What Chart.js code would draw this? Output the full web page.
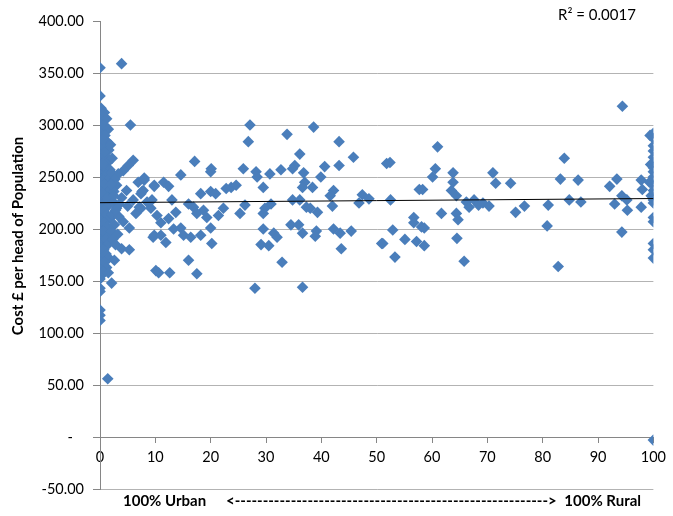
<!DOCTYPE html>
<html>
<head>
<meta charset="utf-8">
<script src="https://cdn.jsdelivr.net/npm/chart.js@4.4.0/dist/chart.umd.min.js"></script>
<style>
  html, body { margin: 0; padding: 0; background: #fff; }
  #wrap { width: 673px; height: 516px; }
</style>
</head>
<body>
<div id="wrap"><canvas id="costChart" width="673" height="516"></canvas></div>
<script>
// [percent rural, cost £ per head]
const fullyUrban = [
  [0,355],[0,328],[0.2,316],[0,312],[0.3,308],[0,305],[0.2,302],[0,298],[0.3,295],[0,292],
  [0.2,288],[0,285],[0.3,282],[0,278],[0.2,275],[0,272],[0.3,268],[0,265],[0.2,262],[0,258],
  [0.3,255],[0,252],[0.2,248],[0,245],[0.3,242],[0,238],[0.2,235],[0,232],[0.3,228],[0,225],
  [0.2,222],[0,218],[0.3,215],[0,212],[0.2,208],[0,205],[0.3,202],[0,198],[0.2,195],[0,192],
  [0.3,188],[0,185],[0.2,182],[0,178],[0.3,175],[0,172],[0.2,168],[0,165],[0.3,162],[0,158],
  [0.2,155],[0,152],[0,143],[0,140],[0,122],[0,117],[0,112]
];
const nearUrban = [
  [0.8,312],[1.2,306],[0.7,300],[1.5,296],[0.9,290],[1.3,284],[0.6,280],[1.6,276],[1.0,270],[1.4,264],
  [0.7,260],[1.8,257],[1.1,252],[0.6,247],[1.5,244],[0.9,240],[1.3,236],[0.6,232],[1.7,229],[1.0,226],
  [1.4,222],[0.7,218],[1.2,214],[1.8,210],[0.8,206],[1.3,202],[0.6,198],[1.6,194],[1.0,190],[1.4,185],
  [0.7,180],[1.1,176],[1.6,172],[0.8,168],[1.2,163],[0.6,159],[1.5,158],[2.1,148],[1.4,56],
  [0.5,286],[1.9,281],[0.9,274],[2.2,268],[0.5,263],[1.9,249],[0.8,243],[2.0,238],[0.5,234],[1.3,230],
  [3.9,359],[5.5,300],[6.0,266],[5.1,261],[4.2,256],[3.3,253],[2.1,254],[2.7,248],[8.0,249],[6.9,245],
  [9.8,242],[7.8,237],[4.8,237],[3.0,242],[2.5,236],[3.9,230],[7.4,234],[7.4,220],[4.2,207],[5.3,201],
  [9.6,192],[3.9,181],[5.3,180],[2.6,170],[10.1,160],[2.4,226],[3.0,220],[2.2,214],[3.4,212],[2.6,204],
  [2.0,198],[3.2,195],[2.3,190],[2.8,185],[6.5,215],[8.5,226],[6.0,228],[5.0,222],[2.0,243],[2.5,232],
  [3.5,224],[2.8,218]
];
const urbanMix = [
  [8.0,247],[11.5,245],[12.4,241],[9.8,241],[7.6,236],[9.4,228],[13.0,228],[16.0,224],[16.9,221],[7.1,221],
  [9.2,220],[13.7,216],[18.7,218],[17.5,215],[10.3,213],[19.3,211],[21.4,213],[11.0,206],[12.4,210],[13.3,200],
  [14.6,201],[20.0,201],[9.8,194],[11.0,194],[15.1,194],[16.4,192],[18.2,194],[11.9,187],[20.2,186],[16.0,170],
  [10.6,158],[12.6,158],[17.5,157],[17.1,265],[20.1,258],[20.0,255],[14.6,252],[18.2,234],[20.0,236],[20.9,234],
  [23.7,240],[24.6,242],[22.8,239],[22.3,220],[25.3,215],[26.2,223],[25.9,258],[27.1,300],[26.8,284],[28.2,255],
  [28.4,250],[29.5,240],[29.5,215],[29.5,200],[29.1,185],[28.0,143]
];
const midMix = [
  [38.6,298],[33.8,291],[43.2,284],[36.1,272],[45.8,269],[35.2,261],[34.8,258],[36.8,254],[43.2,261],[40.6,260],
  [32.7,257],[30.7,253],[51.8,263],[39.9,250],[37.0,245],[36.6,240],[38.4,240],[42.2,237],[41.6,232],[34.8,228],
  [36.1,228],[30.9,224],[29.8,220],[37.3,221],[38.0,220],[39.3,216],[42.0,222],[46.8,225],[47.4,233],[48.6,229],
  [31.4,196],[32.0,192],[34.5,204],[35.9,204],[36.6,196],[39.1,198],[38.9,193],[42.2,200],[43.4,196],[45.4,198],
  [30.5,184],[43.6,181],[50.9,186],[32.9,168],[36.6,144]
];
const ruralMix = [
  [61.0,279],[52.4,264],[60.6,258],[60.1,250],[63.8,254],[63.8,245],[71.0,254],[71.5,244],[57.7,238],[58.3,238],
  [63.5,237],[64.4,232],[52.5,228],[66.2,226],[67.6,228],[69.2,225],[70.3,222],[66.7,221],[68.4,223],[61.7,215],
  [64.4,215],[64.7,209],[56.7,211],[56.7,206],[58.1,202],[58.6,201],[52.9,199],[51.1,186],[55.1,190],[57.2,188],
  [58.6,184],[64.5,191],[53.3,173],[65.8,169],
  [94.4,318],[83.9,268],[83.2,248],[86.4,247],[74.2,244],[92.1,241],[93.4,248],[97.8,247],[98.0,238],[94.3,232],
  [95.2,228],[93.0,224],[95.3,218],[97.8,221],[84.8,228],[86.9,226],[76.7,222],[75.1,216],[81.0,223],[80.8,203],
  [94.3,197],[82.8,164]
];
const fullyRural = [
  [100,292],[100,287],[100,280],[100,275],[100,269],[100,264],[100,259],[100,255],[100,250],[100,246],
  [100,242],[100,237],[100,233],[100,228],[100,225],[100,211],[100,207],[100,186],[100,180],[100,172],
  [100,-3],[99.4,290],[99.5,262],[99.3,245],[99.6,232]
];

const xTicks = [0, 10, 20, 30, 40, 50, 60, 70, 80, 90, 100];
const yTicks = [-50, 0, 50, 100, 150, 200, 250, 300, 350, 400];
const yTitle = 'Cost £ per head of Population';
const xTitleLeft = '100% Urban';
const xTitleRight = '100% Rural';
const rSquaredText = 'R\u00B2 = 0.0017';

const allPoints = [].concat(fullyUrban, nearUrban, urbanMix, midMix, ruralMix, fullyRural)
  .map(p => ({ x: p[0], y: p[1] }));

// linear trend line (least squares)
let n = allPoints.length, sx = 0, sy = 0, sxx = 0, sxy = 0;
allPoints.forEach(p => { sx += p.x; sy += p.y; sxx += p.x * p.x; sxy += p.x * p.y; });
const slope = (n * sxy - sx * sy) / (n * sxx - sx * sx);
const intercept = (sy - slope * sx) / n;
const trend = [xTicks[0], xTicks[xTicks.length - 1]].map(x => ({ x: x, y: intercept + slope * x }));

// titles and R² label drawn by hand so they sit where Excel put them
const chartLabels = {
  id: 'chartLabels',
  afterDraw(chart) {
    const ctx = chart.ctx;
    ctx.save();
    ctx.fillStyle = '#000';
    ctx.textBaseline = 'middle';

    ctx.font = '15px Lato';
    ctx.fillText(rSquaredText, 558, 15);

    ctx.font = 'bold 15px Lato';
    ctx.fillText(xTitleLeft, 123, 501);
    ctx.textAlign = 'right';
    ctx.fillText(xTitleRight, 641, 501);

    // arrow "<------>" filled with dashes between 226 and 555
    ctx.textAlign = 'left';
    const arrowL = 226, arrowR = 555;
    const ends = ctx.measureText('<>').width;
    const dash = ctx.measureText('-').width;
    const count = Math.round((arrowR - arrowL - ends) / dash);
    ctx.fillText('<' + '-'.repeat(count) + '>', arrowL, 501);

    ctx.translate(18, 236);
    ctx.rotate(-Math.PI / 2);
    ctx.textAlign = 'center';
    ctx.fillText(yTitle, 0, 0);
    ctx.restore();
  }
};

const GRID = '#b3b3b3';
const AXIS = '#868686';

new Chart('costChart', {
  type: 'scatter',
  data: {
    datasets: [
      {
        label: 'Trend',
        data: trend,
        showLine: true,
        borderColor: '#000',
        borderWidth: 1,
        pointRadius: 0,
        order: 0
      },
      {
        label: 'Cost per head',
        data: allPoints,
        pointStyle: 'rectRot',
        pointRadius: 5.8,
        pointBorderWidth: 0,
        backgroundColor: '#4a7ebb',
        borderColor: '#4a7ebb',
        order: 1
      }
    ]
  },
  options: {
    responsive: false,
    animation: false,
    events: [],
    layout: { padding: { top: 21, right: 14, left: 0, bottom: 27 } },
    plugins: {
      legend: { display: false },
      tooltip: { enabled: false }
    },
    scales: {
      x: {
        type: 'linear',
        position: { y: 0 },
        min: 0,
        max: 100,
        afterBuildTicks: scale => { scale.ticks = xTicks.map(v => ({ value: v })); },
        grid: { drawOnChartArea: false, drawTicks: true, tickLength: 5, color: AXIS },
        border: { display: true, color: AXIS },
        ticks: {
          color: '#000',
          padding: 7,
          maxRotation: 0,
          font: { family: 'Lato', size: 14.5 }
        }
      },
      y: {
        type: 'linear',
        min: -50,
        max: 400,
        afterBuildTicks: scale => { scale.ticks = yTicks.map(v => ({ value: v })); },
        afterFit: scale => { scale.width = 100; },
        grid: {
          color: ctx => ctx.tick && ctx.tick.value === 400 ? 'rgba(0,0,0,0)' : GRID,
          tickColor: AXIS,
          tickLength: 7,
          drawTicks: true
        },
        border: { display: true, color: AXIS },
        ticks: {
          color: '#000',
          padding: 9,
          font: { family: 'Lato', size: 14.5 },
          callback: v => v === 0 ? '-   ' : v.toFixed(2)
        }
      }
    }
  },
  plugins: [chartLabels]
});
</script>
</body>
</html>
